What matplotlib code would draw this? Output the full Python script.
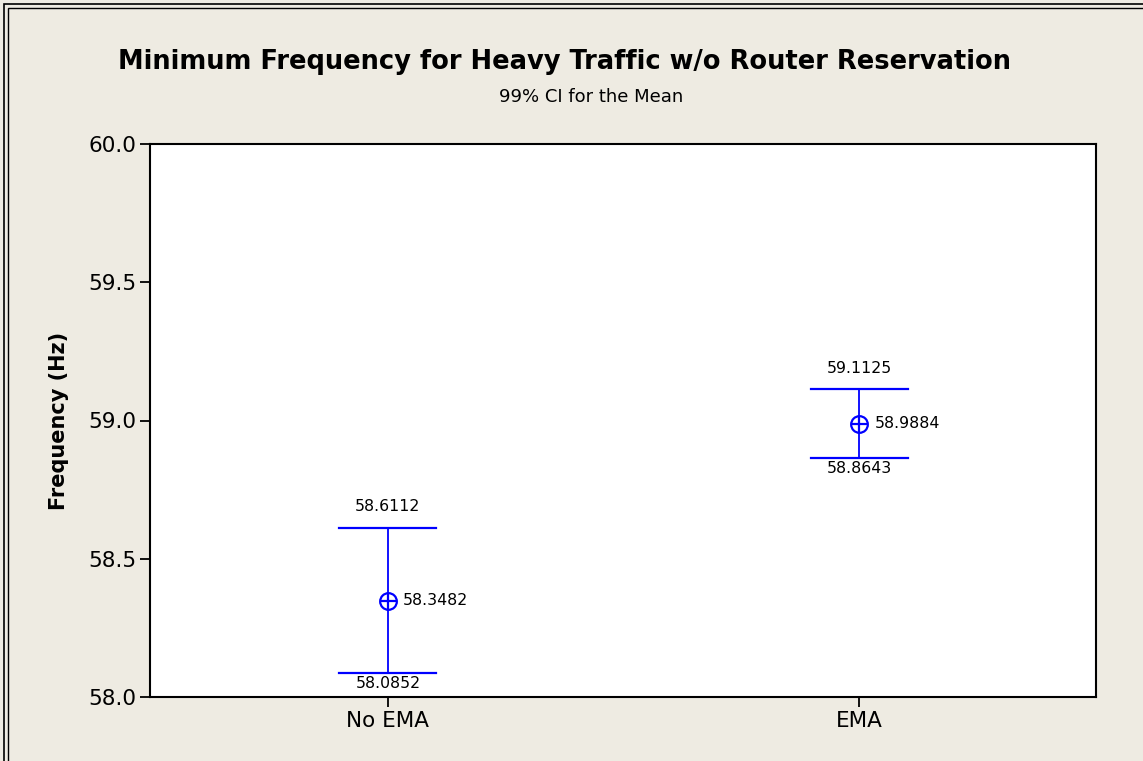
import matplotlib
matplotlib.use("Agg")
import matplotlib.pyplot as plt
from matplotlib.patches import Rectangle

categories = ["No EMA", "EMA"]
means = [58.3482, 58.9884]
lower = [58.0852, 58.8643]
upper = [58.6112, 59.1125]
yticks = [58.0, 58.5, 59.0, 59.5, 60.0]

bg = "#EEEBE2"
blue = "#0000FF"

fig = plt.figure(figsize=(11.43, 7.61), dpi=100, facecolor=bg)
# outer double border
fig.add_artist(Rectangle((4/1143, -0.1), 1.2, 1 - 4/761 + 0.1, transform=fig.transFigure,
                         fill=False, edgecolor="black", linewidth=1.2))
fig.add_artist(Rectangle((7.5/1143, -0.1), 1.2, 1 - 7.5/761 + 0.1, transform=fig.transFigure,
                         fill=False, edgecolor="black", linewidth=1.0))

ax = fig.add_axes([150/1143, 1 - 697/761, 946/1143, 553/761])
ax.set_facecolor("white")
for s in ax.spines.values():
    s.set_linewidth(1.5)
    s.set_color("black")

xs = list(range(1, len(categories) + 1))
cap = 0.103
for x, m, lo, hi in zip(xs, means, lower, upper):
    ax.plot([x, x], [lo, hi], color=blue, lw=1.3, zorder=2)
    ax.plot([x - cap, x + cap], [lo, lo], color=blue, lw=1.6, zorder=2)
    ax.plot([x - cap, x + cap], [hi, hi], color=blue, lw=1.6, zorder=2)
    ax.plot([x], [m], marker="o", ms=12, mfc="none", mec=blue, mew=1.6, zorder=3)
    ax.plot([x], [m], marker="+", ms=12, mec=blue, mew=1.6, zorder=3)
    ax.annotate(f"{hi:.4f}", (x, hi), xytext=(0, 10), textcoords="offset points",
                ha="center", va="bottom", fontsize=11.3)
    ax.annotate(f"{lo:.4f}", (x, lo), xytext=(0, -2), textcoords="offset points",
                ha="center", va="top", fontsize=11.3)
    ax.annotate(f"{m:.4f}", (x, m), xytext=(11, 0), textcoords="offset points",
                ha="left", va="center", fontsize=11.3)

ax.set_xlim(0.495, 2.503)
ax.set_ylim(58.0, 60.0)
ax.set_xticks(xs)
ax.set_xticklabels(categories, fontsize=15.5)
ax.set_yticks(yticks)
ax.set_yticklabels([f"{t:.1f}" for t in yticks], fontsize=15.5)
ax.tick_params(axis="both", length=7, width=1.3, color="black", pad=3)
ax.set_ylabel("Frequency (Hz)", fontsize=15, fontweight="bold", labelpad=14)

fig.text(565/1143, 1 - 62/761, "Minimum Frequency for Heavy Traffic w/o Router Reservation",
         ha="center", va="center", fontsize=18.5, fontweight="bold")
fig.text(591/1143, 1 - 97/761, "99% CI for the Mean", ha="center", va="center", fontsize=13)

fig.savefig("out.png", dpi=100, facecolor=bg)
